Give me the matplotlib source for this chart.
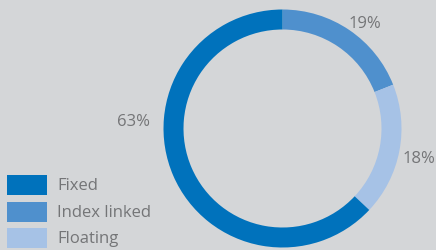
import matplotlib.pyplot as plt
from matplotlib.patches import Rectangle

plt.rcParams['font.family'] = ['Open Sans', 'DejaVu Sans']

# data
labels = ['Index linked', 'Floating', 'Fixed']
shares = [19, 18, 63]
colors = ['#4f90cd', '#a6c2e6', '#0072bc']
pct_text = ['19%', '18%', '63%']

legend_labels = ['Fixed', 'Index linked', 'Floating']
legend_colors = ['#0072bc', '#4f90cd', '#a6c2e6']

bg = '#d4d6d8'
grey = '#747577'

fig = plt.figure(figsize=(4.36, 2.51), dpi=100, facecolor=bg)
ax = fig.add_axes([0, 0, 1, 1])
ax.set_facecolor(bg)

# ring
ax.pie(shares, colors=colors, startangle=90, counterclock=False,
       center=(282.5, 121.5), radius=119, frame=True,
       wedgeprops=dict(width=20, linewidth=0))
ax.set_xlim(0, 436)
ax.set_ylim(0, 251)
ax.set_aspect('equal')
ax.axis('off')

# percentage labels
pos = [(365, 227.5), (419, 92), (133, 129.5)]
for (x, y), t in zip(pos, pct_text):
    ax.text(x, y, t, ha='center', va='center', fontsize=12, color=grey)

# legend
box_y = [65, 38, 12]
for y, lab, c in zip(box_y, legend_labels, legend_colors):
    ax.add_patch(Rectangle((7, y - 10), 40, 20, facecolor=c, linewidth=0))
    ax.text(57, y, lab, ha='left', va='center', fontsize=12, color=grey)

fig.savefig('out.png', dpi=100, facecolor=bg)
